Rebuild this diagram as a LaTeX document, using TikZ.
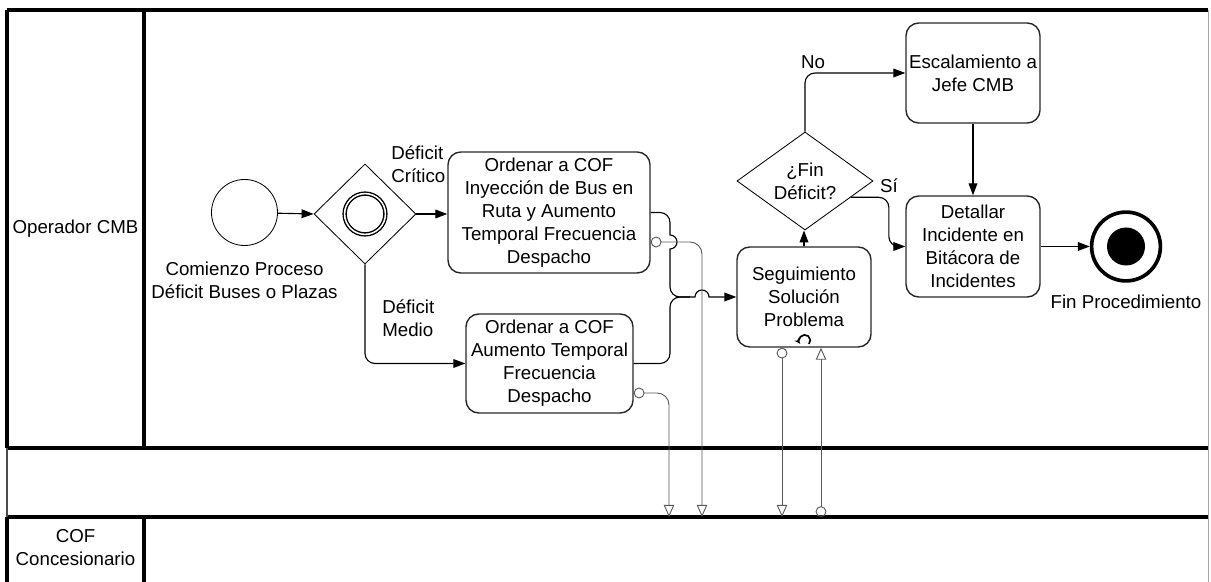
\documentclass[tikz,border=0pt]{standalone}
\usepackage{fontspec}
\setmainfont{Liberation Sans}
\usetikzlibrary{arrows.meta,calc,shapes.geometric}

\begin{document}
\begin{tikzpicture}[
  x=0.025cm, y=-0.025cm,
  font=\fontsize{13.3}{16.3}\selectfont,
  task/.style={draw=black!85, line width=1pt, rounded corners=0.32cm, align=center, inner sep=2pt},
  gate/.style={diamond, draw, line width=0.6pt, inner sep=0pt, align=center},
  ev/.style={circle, draw, inner sep=0pt},
  seq/.style={-{Triangle[length=0.3cm, width=0.22cm]}, line width=0.8pt, rounded corners=0.25cm},
  msg/.style={{Circle[open, length=0.27cm]}-{Triangle[open, length=0.3cm, width=0.26cm]},
    draw=black!65, line width=0.65pt, rounded corners=0.3cm},
  lbl/.style={align=left, inner sep=0pt},
  swim/.style={line width=2.2pt},
]
  \useasboundingbox (0,0) rectangle (1211,582);

  % pool and lanes
  \draw[swim] (7,10) -- (1208,10);
  \draw[swim] (7,448) -- (1208,448);
  \draw[swim] (7,517) -- (1208,517);
  \draw[swim] (7,10) -- (7,448);
  \draw[swim] (7,517) -- (7,582);
  \draw[black!70, line width=1.4pt] (7,448) -- (7,517);
  \draw[swim] (144,10) -- (144,448);
  \draw[swim] (144,517) -- (144,582);
  \draw[black!35, line width=0.6pt] (1208,10) -- (1208,582);

  \node (lcmb) at (75.5,229) {Operador CMB};
  \node[align=center] (lcof) at (75.5,548) {COF\\Concesionario};

  % events, gateways, tasks
  \node[ev, line width=0.6pt, minimum size=1.65cm] (start) at (244.5,212.5) {};
  \node[align=center] (startlbl) at (244.5,280) {Comienzo Proceso\\Déficit Buses o Plazas};
  \node[gate, minimum width=2.55cm, minimum height=2.5cm] (gw) at (365,214) {};
  \node[ev, double, double distance=1.1pt, line width=1pt, minimum size=1.02cm] (gwring) at (gw) {};

  \node[task, minimum width=5.05cm, minimum height=3.025cm] (ord1) at (549,212.5)
    {Ordenar a COF\\Inyección de Bus en\\Ruta y Aumento\\Temporal Frecuencia\\Despacho};
  \node[task, minimum width=4.175cm, minimum height=2.475cm] (ord2) at (549.5,363.5)
    {Ordenar a COF\\Aumento Temporal\\Frecuencia\\Despacho};
  \node[task, minimum width=3.35cm, minimum height=2.5cm] (seg) at (804,297)
    {Seguimiento\\Solución\\Problema};
  \node[gate, aspect=1.39, minimum width=3.4cm, minimum height=2.45cm] (fin) at (805,181)
    {¿Fin\\Déficit?};
  \node[task, minimum width=3.35cm, minimum height=2.5cm] (esc) at (973,73)
    {Escalamiento a\\Jefe CMB};
  \node[task, minimum width=3.35cm, minimum height=2.525cm] (det) at (973,246.5)
    {Detallar\\Incidente en\\Bitácora de\\Incidentes};
  \node[ev, line width=2.6pt, minimum size=1.72cm] (endev) at (1126,246.5) {};
  \node[ev, draw=none, fill=black, minimum size=0.95cm] (enddot) at (endev) {};
  \node (endlbl) at (1126,302) {Fin Procedimiento};

  % loop marker
  \draw[line width=1.2pt, -{Stealth[length=1.6mm]}] ($(seg.south)+(5,-3.7)$)
    arc[start angle=-40, end angle=220, radius=0.14cm];

  \node[lbl, anchor=west] (lcrit) at (391,164.5) {Déficit\\Crítico};
  \node[lbl, anchor=west] (lmed) at (382,318.5) {Déficit\\Medio};

  % sequence flows
  \draw[seq] (start) -- (gw.west);
  \draw[seq] (gw.east) -- (ord1.west |- gw.east);
  \draw[seq] (gw.south) |- (ord2.west);
  \draw[seq, sharp corners] (ord1.east) -- (660,212.5)
    arc[start angle=90, end angle=0, radius=0.25cm] -- (670,235)
    arc[start angle=90, end angle=-90, radius=0.175cm] -- (670,287)
    arc[start angle=180, end angle=270, radius=0.25cm] -- (695,297)
    arc[start angle=180, end angle=0, radius=0.175cm] -- (seg.west);
  \draw[seq, -] (ord2.east) -- (670,363.5) -- (670,297) -- (690,297);
  \draw[seq] (seg.north) -- (seg.north |- fin.south);
  \draw[seq] (fin.north) |- (esc.west) node[pos=0.54, anchor=south, inner sep=3pt] {No};
  \draw[seq] ($(fin.east)!0.33!(fin.south)$) -- ++(38,0)
    node[pos=1, anchor=south, inner sep=3pt] {Sí} |- (det.west);
  \draw[seq] (esc) -- (det);
  \draw[seq] (det) -- (endev);

  % message flows
  \coordinate (cofA) at (669,517);
  \coordinate (cofB) at (702,517);
  \coordinate (cofC) at (782,517);
  \coordinate (cofD) at (821,517);
  \draw[msg] ($(ord1.east)+(0,29.5)$) -| (cofB);
  \draw[msg] ($(ord2.east)+(0,29.5)$) -| (cofA);
  \draw[msg] (cofC |- seg.south) -- (cofC);
  \draw[msg] (cofD) -- (cofD |- seg.south);
\end{tikzpicture}
\end{document}
